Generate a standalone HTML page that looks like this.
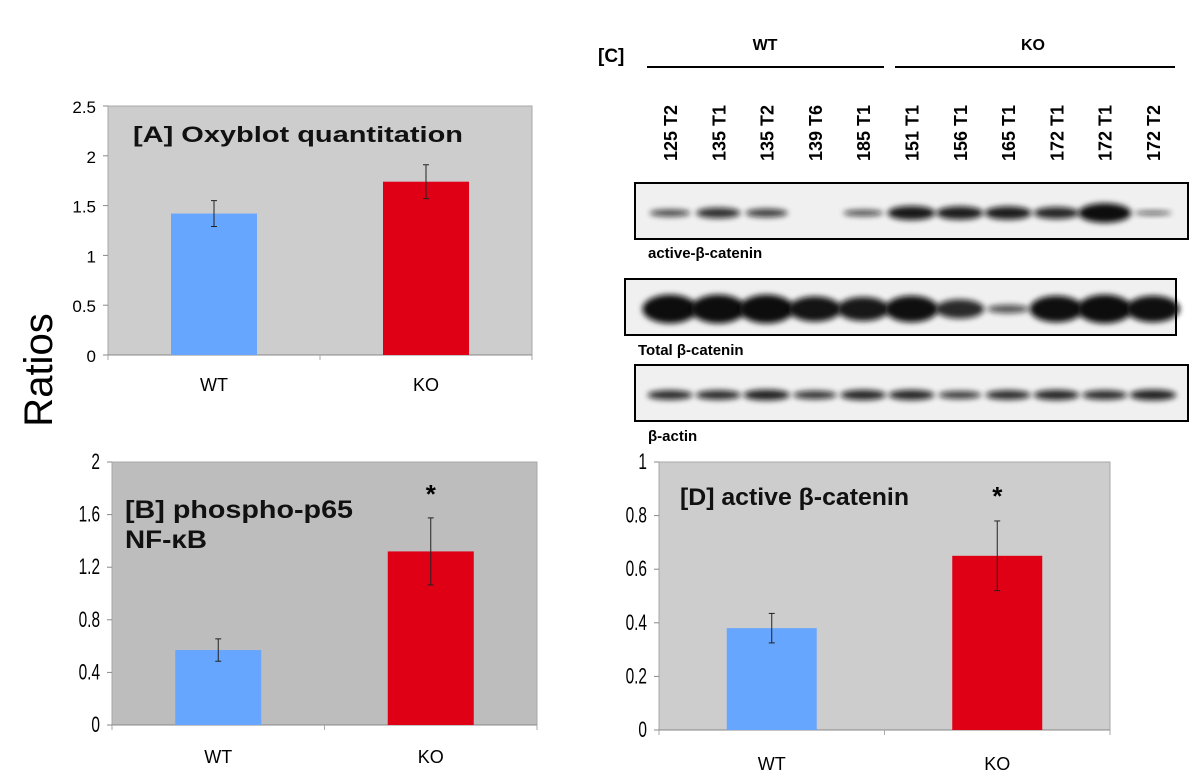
<!DOCTYPE html>
<html><head><meta charset="utf-8"><style>
body{margin:0;background:#fff;width:1200px;height:782px;overflow:hidden;font-family:"Liberation Sans","DejaVu Sans",sans-serif}
svg{display:block}
</style></head><body>
<svg width="1200" height="782" viewBox="0 0 1200 782">
<defs>
<filter id="blur" x="-30%" y="-100%" width="160%" height="300%"><feGaussianBlur stdDeviation="3"/></filter>
</defs>
<text transform="translate(52,370) rotate(-90)" text-anchor="middle" font-size="40" fill="#000">Ratios</text>
<g id="charts"></g>
<g id="blot"></g>
</svg>
<script>
const NS='http://www.w3.org/2000/svg';
const categories=['WT','KO'];
const colors=['#66a6ff','#e00016'];
const aValues=[1.42,1.74]; const aErr=[0.13,0.17]; const aTicks=['0','0.5','1','1.5','2','2.5'];
const bValues=[0.57,1.32]; const bErr=[0.085,0.255]; const bTicks=['0','0.4','0.8','1.2','1.6','2'];
const dValues=[0.38,0.65]; const dErr=[0.055,0.13]; const dTicks=['0','0.2','0.4','0.6','0.8','1'];
const lanes=['125 T2','135 T1','135 T2','139 T6','185 T1','151 T1','156 T1','165 T1','172 T1','172 T1','172 T2'];
const activeBand=[0.5,0.75,0.6,0,0.45,1,0.95,0.95,0.85,1.4,0.3];
const totalBand=[1.2,1.2,1.2,1.05,1.0,1.1,0.8,0.35,1.1,1.2,1.1];
const actinBand=[0.8,0.8,0.9,0.7,0.85,0.85,0.65,0.8,0.85,0.8,0.9];

function el(tag,attrs,parent,text){const e=document.createElementNS(NS,tag);for(const k in attrs)e.setAttribute(k,attrs[k]);if(text!==undefined)e.textContent=text;parent.appendChild(e);return e;}
const root=document.getElementById('charts');
function chart(cfg){
  const g=el('g',{},root);
  
  
  const max=+cfg.ticks[cfg.ticks.length-1];
  const y=v=>cfg.bottom-(v/max)*(cfg.bottom-cfg.top);
  el('rect',{x:cfg.left,y:cfg.top,width:cfg.right-cfg.left,height:cfg.bottom-cfg.top,fill:cfg.bg,stroke:'#a8a8a8','stroke-width':1},g);
  el('line',{x1:cfg.left,y1:cfg.bottom,x2:cfg.right,y2:cfg.bottom,stroke:'#888'},g);
  const mid=(cfg.left+cfg.right)/2;
  [cfg.left,mid,cfg.right].forEach(x=>el('line',{x1:x,y1:cfg.bottom,x2:x,y2:cfg.bottom+5,stroke:'#aaa'},g));
  cfg.ticks.forEach(t=>{
    const yy=y(+t);
    el('line',{x1:cfg.left-5,y1:yy,x2:cfg.left,y2:yy,stroke:'#888'},g);
    const tx=cfg.left-12;
    const tl=el('text',{x:tx,y:yy+7,'text-anchor':'end','font-size':cfg.tickSize,fill:'#000',transform:cfg.narrow?`translate(${tx},0) scale(0.7,1) translate(${-tx},0)`:''},g,t);
    
    
  });
  const slot=(cfg.right-cfg.left)/categories.length;
  cfg.values.forEach((v,i)=>{
    const cx=cfg.left+slot*(i+0.5);
    const bw=cfg.barW;
    const r=el('rect',{x:cx-bw/2,y:y(v),width:bw,height:cfg.bottom-y(v),fill:colors[i]},g);
    
    
    const e=cfg.err[i];
    const eg=el('g',{stroke:'#222','stroke-width':1},g);
    
    
    el('line',{x1:cx,y1:y(v+e),x2:cx,y2:y(v-e)},eg);
    el('line',{x1:cx-3,y1:y(v+e),x2:cx+3,y2:y(v+e)},eg);
    el('line',{x1:cx-3,y1:y(v-e),x2:cx+3,y2:y(v-e)},eg);
    const xl=el('text',{x:cx,y:cfg.bottom+cfg.xLabOff,'text-anchor':'middle','font-size':18,fill:'#000'},g,categories[i]);
    
    
    if(cfg.star&&i===1){const s=el('text',{x:cx,y:cfg.starY,'text-anchor':'middle','font-size':26,'font-weight':'bold',fill:'#000'},g,'*');
      }
  });
  cfg.title.forEach((t,k)=>{const a={x:cfg.titleX,y:cfg.titleY+k*cfg.lineH,'font-size':cfg.titleSize,'font-weight':'bold',fill:'#111'};
    if(cfg.titleLen[k]){a.textLength=cfg.titleLen[k];a.lengthAdjust='spacingAndGlyphs';}
    const tt=el('text',a,g,t);
    });
}
chart({name:'chart-a-oxyblot',left:108,right:532,top:106,bottom:355,bg:'#cdcdcd',ticks:aTicks,values:aValues,err:aErr,barW:86,tickSize:17,xLabOff:36,title:['[A] Oxyblot quantitation'],titleLen:[330],lineH:28,titleX:133,titleY:142,titleSize:22});
chart({name:'chart-b-phospho-p65',left:112,right:537,top:462,bottom:725,bg:'#bdbdbd',ticks:bTicks,values:bValues,err:bErr,barW:86,tickSize:22,xLabOff:38,star:true,starY:503,narrow:true,title:['[B] phospho-p65','NF-\u03baB'],titleLen:[228,82],lineH:30,titleX:125,titleY:518,titleSize:25});
chart({name:'chart-d-active-beta-catenin',left:659,right:1110,top:462,bottom:730,bg:'#cdcdcd',ticks:dTicks,values:dValues,err:dErr,barW:90,tickSize:22,xLabOff:40,star:true,starY:505,narrow:true,title:['[D] active \u03b2-catenin'],titleLen:[229],lineH:28,titleX:680,titleY:505,titleSize:24});

const blot=document.getElementById('blot');
el('text',{x:598,y:62,'font-size':19,'font-weight':'bold'},blot,'[C]');
el('text',{x:765,y:50,'font-size':16,'font-weight':'bold','text-anchor':'middle'},blot,'WT');
el('text',{x:1033,y:50,'font-size':16,'font-weight':'bold','text-anchor':'middle'},blot,'KO');
el('line',{x1:647,y1:67,x2:884,y2:67,stroke:'#000','stroke-width':2},blot);
el('line',{x1:895,y1:67,x2:1175,y2:67,stroke:'#000','stroke-width':2},blot);
const laneX=i=>670+i*48.3;
lanes.forEach((l,i)=>{const t=el('text',{transform:`translate(${laneX(i)+7},161) rotate(-90)`,'font-size':18,'font-weight':'bold'},blot,l);
  });
function strip(x0,x1,y0,y1,band,h,w,label,ly,name){
  const g=el('g',{},blot);
  
  
  el('rect',{x:x0,y:y0,width:x1-x0,height:y1-y0,fill:'#f0f0f0',stroke:'#000','stroke-width':2},g);
  const cy=(y0+y1)/2+2;
  band.forEach((b,i)=>{if(b<=0)return;
    el('ellipse',{cx:laneX(i),cy:cy,rx:w*Math.min(1.1,0.7+b*0.3),ry:h*b,fill:'#111',opacity:Math.min(1,0.55+b*0.4),filter:'url(#blur)'},g);});
  el('text',{x:x0+13,y:ly,'font-size':15,'font-weight':'bold'},g,label);
}
strip(635,1188,183,239,activeBand,7,24,'active-\u03b2-catenin',258,'blot-active-beta-catenin');
strip(625,1176,279,335,totalBand,12,26,'Total \u03b2-catenin',355,'blot-total-beta-catenin');
strip(635,1188,365,421,actinBand,6,24,'\u03b2-actin',441,'blot-beta-actin');
</script>
</body></html>
